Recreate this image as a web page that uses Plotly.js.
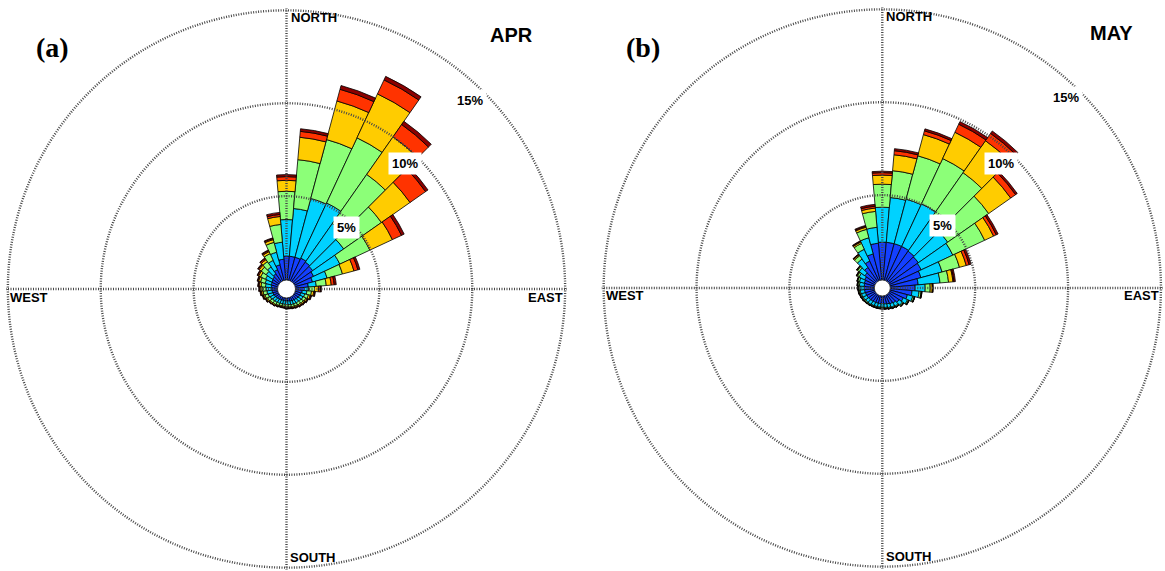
<!DOCTYPE html>
<html>
<head>
<meta charset="utf-8">
<script src="https://cdn.plot.ly/plotly-3.0.1.min.js"></script>
<style>
  html, body { margin: 0; padding: 0; background: #ffffff; }
  #rose { width: 1165px; height: 571px; }
</style>
</head>
<body>
<div id="rose"></div>
<script>
// Wind direction sectors (degrees, clockwise from north)
const directions = [0, 10, 20, 30, 40, 50, 60, 70, 80, 90, 100, 110, 120, 130, 140, 150, 160, 170,
                    180, 190, 200, 210, 220, 230, 240, 250, 260, 270, 280, 290, 300, 310, 320, 330, 340, 350];

// Frequency (%) of each wind-speed class per sector, April
const aprClass1 = [1.77, 1.77, 1.77, 1.83, 1.77, 1.72, 1.61, 1.45, 1.18, 0.97, 0.85, 0.80, 0.78, 0.75, 0.72, 0.70, 0.68, 0.66,
                   0.65, 0.64, 0.64, 0.66, 0.68, 0.70, 0.73, 0.76, 0.78, 0.80, 0.82, 0.85, 0.88, 0.92, 1.00, 1.15, 1.35, 1.61];
const aprClass2 = [1.97, 2.58, 3.28, 3.28, 2.53, 2.04, 1.56, 0.81, 0.43, 0.21, 0.25, 0.22, 0.20, 0.20, 0.20, 0.20, 0.20, 0.20,
                   0.20, 0.19, 0.19, 0.20, 0.21, 0.22, 0.24, 0.26, 0.28, 0.30, 0.32, 0.34, 0.37, 0.42, 0.45, 0.55, 0.70, 0.92];
const aprClass3 = [1.52, 2.64, 3.28, 3.87, 3.23, 2.48, 1.78, 0.86, 0.54, 0.33, 0.25, 0.20, 0.17, 0.15, 0.14, 0.13, 0.12, 0.12,
                   0.11, 0.11, 0.11, 0.12, 0.13, 0.14, 0.16, 0.18, 0.20, 0.22, 0.24, 0.26, 0.29, 0.33, 0.35, 0.40, 0.55, 0.96];
const aprClass4 = [0.59, 1.21, 2.15, 2.61, 2.47, 1.88, 1.34, 0.64, 0.27, 0.21, 0.12, 0.10, 0.08, 0.07, 0.07, 0.06, 0.06, 0.05,
                   0.05, 0.05, 0.05, 0.05, 0.06, 0.06, 0.07, 0.08, 0.09, 0.10, 0.10, 0.11, 0.12, 0.13, 0.13, 0.12, 0.15, 0.43];
const aprClass5 = [0.20, 0.32, 0.65, 0.83, 0.81, 1.02, 0.54, 0.22, 0.16, 0.11, 0.06, 0.05, 0.04, 0.04, 0.04, 0.03, 0.03, 0.03,
                   0.03, 0.03, 0.03, 0.03, 0.03, 0.03, 0.04, 0.04, 0.05, 0.05, 0.05, 0.05, 0.06, 0.06, 0.07, 0.06, 0.06, 0.11];
const aprClass6 = [0.11, 0.14, 0.21, 0.21, 0.21, 0.16, 0.16, 0.11, 0.11, 0.05, 0.03, 0.03, 0.03, 0.03, 0.03, 0.03, 0.02, 0.02,
                   0.02, 0.02, 0.02, 0.02, 0.02, 0.02, 0.02, 0.03, 0.03, 0.03, 0.03, 0.03, 0.03, 0.04, 0.04, 0.04, 0.04, 0.11];

// Frequency (%) of each wind-speed class per sector, May
const mayClass1 = [2.47, 2.47, 2.47, 2.47, 2.42, 2.37, 2.31, 2.15, 1.94, 1.77, 1.61, 1.40, 1.25, 1.10, 1.00, 0.95, 0.90, 0.87,
                   0.85, 0.85, 0.85, 0.86, 0.88, 0.90, 0.92, 0.94, 0.96, 0.97, 0.98, 1.00, 1.05, 1.15, 1.35, 1.60, 1.90, 2.42];
const mayClass2 = [1.88, 2.42, 2.48, 2.53, 2.31, 1.93, 1.88, 1.18, 1.18, 0.54, 0.38, 0.30, 0.25, 0.22, 0.20, 0.20, 0.20, 0.19,
                   0.19, 0.19, 0.19, 0.19, 0.20, 0.20, 0.21, 0.22, 0.23, 0.24, 0.26, 0.28, 0.33, 0.38, 0.55, 0.70, 0.90, 0.86];
const mayClass3 = [1.24, 1.45, 2.42, 2.69, 2.85, 2.69, 1.89, 0.97, 0.46, 0.27, 0.11, 0.08, 0.06, 0.06, 0.05, 0.05, 0.05, 0.05,
                   0.05, 0.05, 0.05, 0.05, 0.05, 0.06, 0.06, 0.06, 0.07, 0.07, 0.08, 0.09, 0.10, 0.10, 0.22, 0.35, 0.47, 0.86];
const mayClass4 = [0.49, 0.86, 1.18, 1.56, 2.10, 1.45, 0.53, 0.38, 0.24, 0.11, 0.02, 0.02, 0.02, 0.02, 0.02, 0.02, 0.02, 0.02,
                   0.02, 0.02, 0.02, 0.02, 0.02, 0.02, 0.03, 0.03, 0.03, 0.03, 0.03, 0.03, 0.04, 0.04, 0.06, 0.08, 0.12, 0.18];
const mayClass5 = [0.13, 0.22, 0.21, 0.48, 0.48, 0.32, 0.16, 0.16, 0.05, 0.03, 0.02, 0.01, 0.01, 0.01, 0.01, 0.01, 0.01, 0.01,
                   0.01, 0.01, 0.01, 0.01, 0.01, 0.01, 0.01, 0.01, 0.01, 0.01, 0.01, 0.01, 0.02, 0.02, 0.03, 0.04, 0.05, 0.10];
const mayClass6 = [0.08, 0.11, 0.11, 0.16, 0.16, 0.11, 0.11, 0.11, 0.08, 0.02, 0.01, 0.01, 0.01, 0.01, 0.01, 0.01, 0.01, 0.01,
                   0.01, 0.01, 0.01, 0.01, 0.01, 0.01, 0.01, 0.01, 0.01, 0.01, 0.01, 0.01, 0.01, 0.01, 0.02, 0.03, 0.05, 0.10];

// Radial rings (%) and compass labels
const ringValues = [5, 10, 15];
const ringLabels = ['5%', '10%', '15%'];
const compassLabels = ['NORTH', 'EAST', 'SOUTH', 'WEST'];
const panelTags = ['(a)', '(b)'];
const monthNames = ['APR', 'MAY'];

// ---- styling ----
const classColors = ['#1440ff', '#00d2ff', '#8cff78', '#ffcc00', '#ff3300', '#8b0000'];
const W = 1165, H = 571;
const rMax = 15.1;            // radial range end (%), just past the outer ring
const R = 280.5;              // polar radius in px
const centers = [[286.5, 289], [882.3, 288]];
const holeRadius = [9, 8];
const sans = 'Liberation Sans, Arial, sans-serif';
const serif = 'Liberation Serif, Times New Roman, serif';
const gridColor = '#474747';

function domainFor(c) {
  return {
    x: [(c[0] - R) / W, (c[0] + R) / W],
    y: [(H - c[1] - R) / H, (H - c[1] + R) / H]
  };
}

const panels = [
  [aprClass1, aprClass2, aprClass3, aprClass4, aprClass5, aprClass6],
  [mayClass1, mayClass2, mayClass3, mayClass4, mayClass5, mayClass6]
];

const data = [];
panels.forEach((classes, p) => {
  classes.forEach((vals, k) => {
    data.push({
      type: 'barpolar',
      subplot: p === 0 ? 'polar' : 'polar2',
      r: vals,
      theta: directions,
      marker: { color: classColors[k], line: { color: '#000000', width: 0.8 } },
      hoverinfo: 'skip',
      showlegend: false
    });
  });
});
// Grid overlays so the dotted rings sit on top of the bars
['polar3', 'polar4'].forEach(id => {
  data.push({ type: 'scatterpolar', subplot: id, r: [0], theta: [0], mode: 'none',
              hoverinfo: 'skip', showlegend: false });
});

function barPolar(c) {
  return {
    domain: domainFor(c),
    bgcolor: '#ffffff',
    barmode: 'stack',
    bargap: 0,
    radialaxis: { range: [0, rMax], showgrid: false, showline: false, showticklabels: false, ticks: '' },
    angularaxis: { rotation: 90, direction: 'clockwise', showgrid: false, showline: false,
                   showticklabels: false, ticks: '' }
  };
}
function gridPolar(c) {
  return {
    domain: domainFor(c),
    bgcolor: 'rgba(0,0,0,0)',
    radialaxis: { range: [0, rMax], tickvals: ringValues, showgrid: true, gridcolor: gridColor,
                  gridwidth: 2.4, griddash: '1px,1.5px', showline: false, showticklabels: false, ticks: '' },
    angularaxis: { rotation: 90, direction: 'clockwise', tickvals: [0, 90, 180, 270], showgrid: true,
                   gridcolor: gridColor, gridwidth: 2.4, griddash: '1px,1.5px', showline: false,
                   showticklabels: false, ticks: '' }
  };
}

const annotations = [];
function addText(px, py, text, size, family, opts) {
  annotations.push(Object.assign({
    xref: 'paper', yref: 'paper', x: px / W, y: 1 - py / H, text: text, showarrow: false,
    font: { family: family, size: size, color: '#000000', weight: 'bold' }
  }, opts || {}));
}

// per-panel text placement
const compassPos = [
  [[289, 18, 'left'], [565, 297, 'right'], [288, 557, 'left'], [8, 297, 'left']],
  [[884, 17, 'left'], [1161, 296, 'right'], [884, 556, 'left'], [604, 296, 'left']]
];
const ringPos = [
  [[346, 228], [405, 163], [470, 100]],
  [[942, 225], [1001, 163], [1066, 98]]
];
const tagPos = [[52, 47], [643, 47]];
const monthPos = [[511, 35], [1111, 33]];

for (let p = 0; p < 2; p++) {
  compassLabels.forEach((t, i) => {
    const q = compassPos[p][i];
    addText(q[0], q[1], t, 13, sans, { xanchor: q[2], yanchor: 'middle' });
  });
  ringLabels.forEach((t, i) => {
    const q = ringPos[p][i];
    addText(q[0], q[1], t, 13, sans, { xanchor: 'center', yanchor: 'middle', bgcolor: '#ffffff', borderpad: 3 });
  });
  addText(tagPos[p][0], tagPos[p][1], panelTags[p], 28, serif, { xanchor: 'center', yanchor: 'middle' });
  addText(monthPos[p][0], monthPos[p][1], monthNames[p], 20, sans, { xanchor: 'center', yanchor: 'middle' });
}

// white calm-centre discs
const shapes = centers.map((c, p) => ({
  type: 'circle', xref: 'paper', yref: 'paper', layer: 'above',
  x0: (c[0] - holeRadius[p]) / W, x1: (c[0] + holeRadius[p]) / W,
  y0: (H - c[1] - holeRadius[p]) / H, y1: (H - c[1] + holeRadius[p]) / H,
  fillcolor: '#ffffff', line: { color: '#222222', width: 0.8 }
}));

const layout = {
  width: W, height: H,
  margin: { l: 0, r: 0, t: 0, b: 0 },
  paper_bgcolor: '#ffffff',
  showlegend: false,
  polar: barPolar(centers[0]),
  polar2: barPolar(centers[1]),
  polar3: gridPolar(centers[0]),
  polar4: gridPolar(centers[1]),
  annotations: annotations,
  shapes: shapes
};

Plotly.newPlot('rose', data, layout, { displayModeBar: false, staticPlot: true });
</script>
</body>
</html>
